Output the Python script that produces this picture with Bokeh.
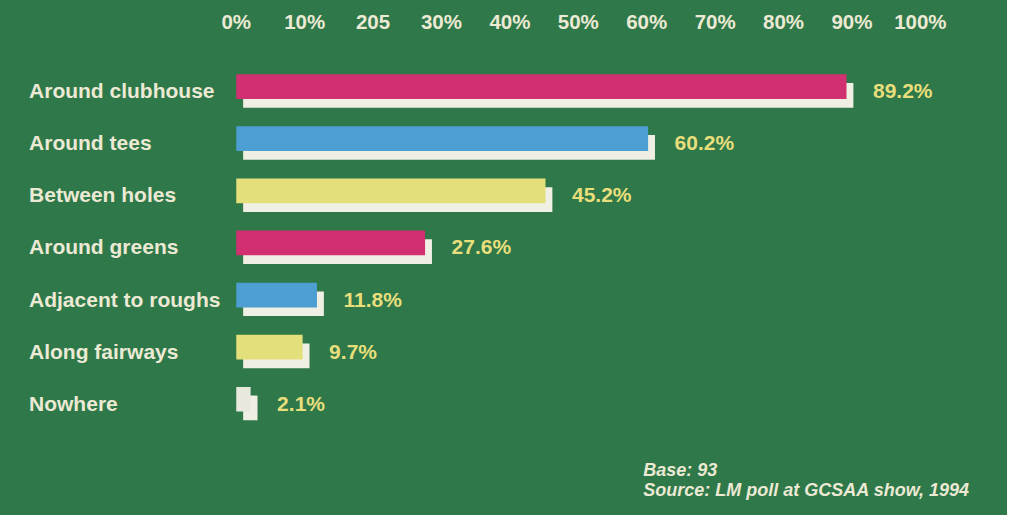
from bokeh.plotting import figure
from bokeh.models import Range1d, LinearAxis, FixedTicker, ColumnDataSource
from bokeh.core.properties import value
from bokeh.embed import file_html
from bokeh.resources import INLINE

# ---- data ----
categories = ["Around clubhouse", "Around tees", "Between holes", "Around greens",
              "Adjacent to roughs", "Along fairways", "Nowhere"]
percent = [89.2, 60.2, 45.2, 27.6, 11.8, 9.7, 2.1]
value_labels = ["89.2%", "60.2%", "45.2%", "27.6%", "11.8%", "9.7%", "2.1%"]
tick_values = [0, 10, 20, 30, 40, 50, 60, 70, 80, 90, 100]
tick_labels = ["0%", "10%", "205", "30%", "40%", "50%", "60%", "70%", "80%", "90%", "100%"]
bar_colors = ["#d0306f", "#4d9fd3", "#e3df7a", "#d0306f", "#4d9fd3", "#e3df7a", "#e9e8dc"]
base_note = "Base: 93"
source_note = "Source: LM poll at GCSAA show, 1994"

# ---- layout / style ----
W, H = 1007, 515
SX, SY = W / 1023, H / 531
TOP = 46
PX_PER_PCT = 6.95 * SX
ZERO_PX = 239.5 * SX
ROW0_PX = 88.75 * SY
ROW_PX = 53.73 * SY
GREEN = "#2e7849"
CREAM = "#ece9d4"
YELLOW = "#e8de7c"
SHADOW = "#f0efe4"
FONT = "Liberation Sans"

x_start = -ZERO_PX / PX_PER_PCT
x_end = x_start + W / PX_PER_PCT
y_top = (TOP - ROW0_PX) / ROW_PX
y_bottom = (H - ROW0_PX) / ROW_PX

dx = 7 * SX / PX_PER_PCT
dy = 9 * SY / ROW_PX
bar_h = 25.5 * SY / ROW_PX

idx = list(range(len(categories)))
src = ColumnDataSource(dict(
    idx=idx,
    pct=percent,
    cat=categories,
    vlab=value_labels,
    color=bar_colors,
    sy=[i + dy for i in idx],
    sr=[v + dx for v in percent],
))

p = figure(width=W, height=H,
           x_range=Range1d(x_start, x_end), y_range=Range1d(y_bottom, y_top),
           output_backend="svg", toolbar_location=None,
           x_axis_location=None, y_axis_location=None,
           min_border_left=0, min_border_right=0, min_border_bottom=0,
           min_border_top=TOP)
p.background_fill_color = GREEN
p.border_fill_color = GREEN
p.outline_line_color = GREEN
p.outline_line_width = 3
p.grid.visible = False
p.styles = {"background-color": GREEN}

ax = LinearAxis(ticker=FixedTicker(ticks=tick_values),
                major_label_overrides=dict(zip(tick_values, tick_labels)))
ax.axis_line_color = None
ax.major_tick_line_color = None
ax.minor_tick_line_color = None
ax.major_label_text_font = FONT
ax.major_label_text_font_style = "bold"
ax.major_label_text_font_size = "20.5px"
ax.major_label_text_color = CREAM
ax.major_label_standoff = 8
p.add_layout(ax, "above")

# shadows
p.hbar(y="sy", left=dx, right="sr", height=bar_h, source=src,
       fill_color=SHADOW, line_color=None)
# bars
p.hbar(y="idx", left=0, right="pct", height=bar_h, source=src,
       fill_color="color", line_color=None)

# category labels
label_x = x_start + 29 * SX / PX_PER_PCT
p.text(x=label_x, y="idx", text="cat", source=src, y_offset=4,
       text_font=value(FONT), text_font_style="bold", text_font_size="21px",
       text_color=CREAM, text_align="left", text_baseline="middle")

# value labels
p.text(x="pct", y="idx", text="vlab", source=src, x_offset=26.5, y_offset=4,
       text_font=value(FONT), text_font_style="bold", text_font_size="21px",
       text_color=YELLOW, text_align="left", text_baseline="middle")

# footnote
note_x = x_start + 653 * SX / PX_PER_PCT
p.text(x=[note_x, note_x],
       y=[(484 * SY - ROW0_PX) / ROW_PX, (505 * SY - ROW0_PX) / ROW_PX],
       text=[base_note, source_note],
       text_font=value(FONT), text_font_style="bold italic", text_font_size="18px",
       text_color=CREAM, text_align="left", text_baseline="middle")

open("out.html", "w").write(file_html(p, INLINE))
